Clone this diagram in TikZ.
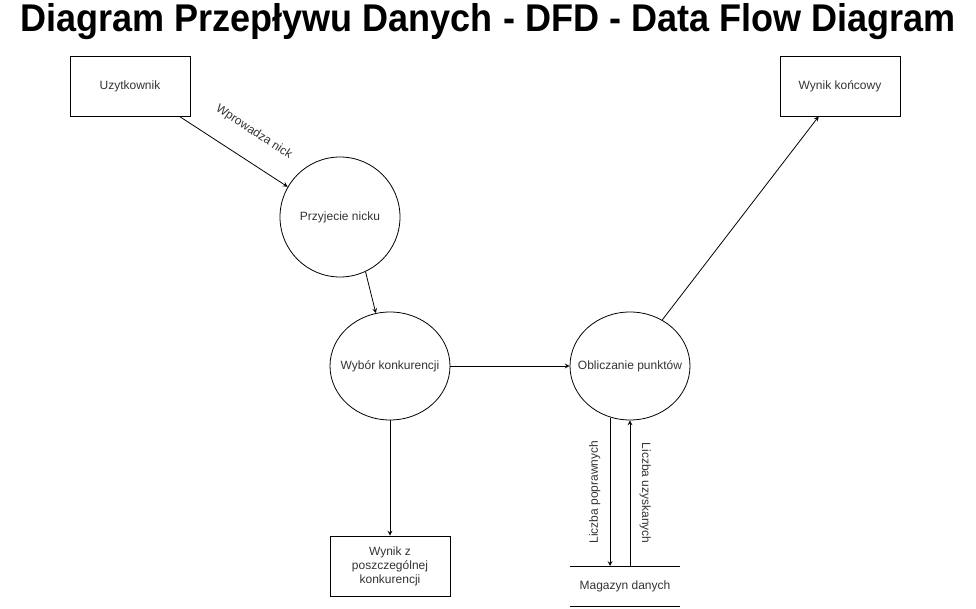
\documentclass[tikz,border=0pt]{standalone}
\usepackage{fontspec}
\setmainfont{Liberation Sans}
\usepackage{xcolor}
\usetikzlibrary{shapes.geometric, arrows, positioning}

\definecolor{txtgray}{HTML}{333333}

\begin{document}
\begin{tikzpicture}[x=0.75pt, y=-0.75pt, thick, line width=0.6pt,
    box/.style={rectangle, draw, minimum width=90pt, minimum height=45pt, align=center, font=\fontsize{9}{10.5}\selectfont, text=txtgray},
    proc/.style={ellipse, draw, minimum width=90pt, minimum height=90pt, inner sep=0pt},
    lbl/.style={font=\fontsize{9}{10.5}\selectfont, text=txtgray, inner sep=1pt}]
    \useasboundingbox (0,0) rectangle (976,609);

    % Title
    \node (Title) at (488,22) {\scalebox{0.932}[1]{\fontsize{29}{32}\selectfont\bfseries Diagram Przepływu Danych - DFD - Data Flow Diagram}};

    % Nodes
    \node (User) [box] at (130,86) {Uzytkownik};
    \node (Final) [box] at (840,86) {Wynik końcowy};
    \node (Nick) [proc, label={[lbl]center:Przyjecie nicku}] at (340,217) {};
    \node (Choice) [proc, minimum height=81pt, label={[lbl]center:Wybór konkurencji}] at (390,366) {};
    \node (Points) [proc, minimum height=81pt, label={[lbl]center:Obliczanie punktów}] at (630,366) {};
    \node (Partial) [box] at (390,566) {Wynik z\\poszczególnej\\konkurencji};

    % Data store
    \coordinate (StoreTL) at (570,566);
    \coordinate (StoreTR) at (680,566);
    \coordinate (StoreBL) at (570,606);
    \coordinate (StoreBR) at (680,606);
    \draw (StoreTL) -- (StoreTR);
    \draw (StoreBL) -- (StoreBR);
    \node (Store) [lbl] at (625,586) {Magazyn danych};
    \coordinate (StoreIn) at (610,566);
    \coordinate (StoreOut) at (630,566);

    % Edges
    \draw[-stealth] (User.south east) ++(-11,0) coordinate (UserOut) -- (Nick.150)
        node [pos=0.55, sloped, above=15pt, lbl] {Wprowadza nick};
    \draw[-stealth] (Nick.-65) -- (Choice.105);
    \draw[-stealth] (Choice) -- (Points);
    \draw[-stealth] (Choice) -- (Partial);
    \draw[-stealth] (Points.55) -- (Final.235);
    \draw[-stealth] (Points.south -| StoreIn) ++(0,-2) -- (StoreIn)
        node [midway, left=6pt, rotate=90, anchor=south, lbl] {Liczba poprawnych};
    \draw[-stealth] (StoreOut) -- (Points.south)
        node [midway, right=6pt, rotate=-90, anchor=south, lbl] {Liczba uzyskanych};
\end{tikzpicture}
\end{document}
